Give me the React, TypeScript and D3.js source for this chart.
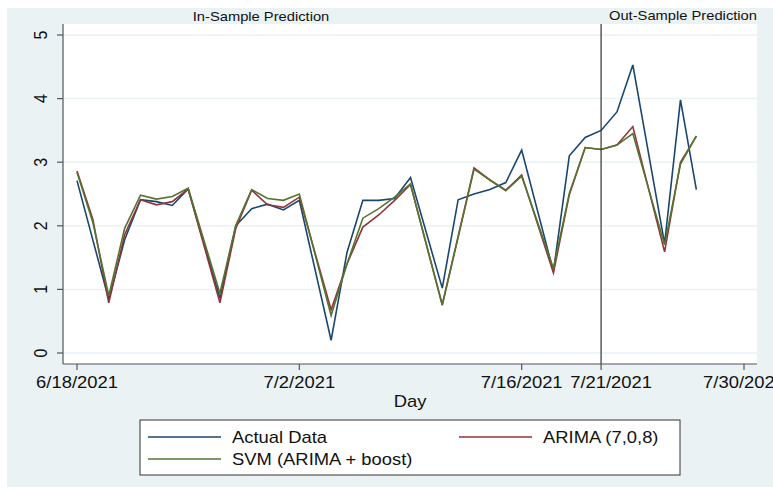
import * as d3 from 'd3';

const parseDate = d3.timeParse('%m/%d/%Y');

// Daily values (days that sit on a straight segment are left out)
const actualDates = [
  '6/18/2021', '6/20/2021', '6/21/2021', '6/22/2021', '6/23/2021', '6/24/2021', '6/25/2021',
  '6/27/2021', '6/28/2021', '6/29/2021', '6/30/2021', '7/1/2021', '7/2/2021',
  '7/4/2021', '7/5/2021', '7/6/2021', '7/7/2021', '7/8/2021', '7/9/2021',
  '7/11/2021', '7/12/2021', '7/13/2021', '7/14/2021', '7/15/2021', '7/16/2021',
  '7/18/2021', '7/19/2021', '7/20/2021', '7/21/2021', '7/22/2021', '7/23/2021',
  '7/25/2021', '7/26/2021', '7/27/2021',
];
const actualValues = [
  2.71, 0.84, 1.78, 2.41, 2.38, 2.32, 2.58,
  0.86, 2.0, 2.27, 2.34, 2.25, 2.4,
  0.2, 1.58, 2.4, 2.4, 2.43, 2.76,
  1.02, 2.41, 2.5, 2.57, 2.68, 3.19,
  1.28, 3.1, 3.39, 3.5, 3.79, 4.53,
  1.72, 3.98, 2.57,
];

const modelDates = [
  '6/18/2021', '6/19/2021', '6/20/2021', '6/21/2021', '6/22/2021', '6/23/2021', '6/24/2021', '6/25/2021',
  '6/27/2021', '6/28/2021', '6/29/2021', '6/30/2021', '7/1/2021', '7/2/2021',
  '7/4/2021', '7/5/2021', '7/6/2021', '7/7/2021', '7/8/2021', '7/9/2021',
  '7/11/2021', '7/13/2021', '7/14/2021', '7/15/2021', '7/16/2021',
  '7/18/2021', '7/19/2021', '7/20/2021', '7/21/2021', '7/22/2021', '7/23/2021',
  '7/25/2021', '7/26/2021', '7/27/2021',
];
const arimaValues = [
  2.86, 2.1, 0.79, 1.86, 2.41, 2.33, 2.38, 2.58,
  0.79, 1.96, 2.56, 2.33, 2.29, 2.45,
  0.68, 1.4, 1.98, 2.17, 2.4, 2.65,
  0.76, 2.91, 2.72, 2.56, 2.8,
  1.26, 2.49, 3.23, 3.2, 3.27, 3.56,
  1.59, 3.0, 3.41,
];
const svmValues = [
  2.84, 2.05, 0.9, 1.96, 2.48, 2.42, 2.46, 2.59,
  0.94, 2.01, 2.57, 2.43, 2.4, 2.5,
  0.59, 1.4, 2.12, 2.27, 2.45, 2.66,
  0.75, 2.89, 2.72, 2.55, 2.78,
  1.33, 2.51, 3.23, 3.2, 3.27, 3.45,
  1.7, 2.97, 3.41,
];

const xTickLabels = ['6/18/2021', '7/2/2021', '7/16/2021', '7/21/2021', '7/30/2021'];
const yTicks = [0, 1, 2, 3, 4, 5];
const splitDate = '7/21/2021';

const W = 773;
const H = 491;
const plot = { left: 63, right: 757, top: 24, bottom: 364 };
const SX = 1.15; // horizontal stretch of the original text

const NAVY = '#1a476f';
const MAROON = '#90353b';
const GREEN = '#55752f';
const BG = '#eaf2f3';
const AXIS = '#555';

export default function App() {
  const x = d3
    .scaleTime()
    .domain([parseDate('6/18/2021')!, parseDate('7/30/2021')!])
    .range([77, 744]);
  const y = d3.scaleLinear().domain([0, 5]).range([353, 35]);

  const line = d3
    .line<[Date, number]>()
    .x((d) => x(d[0]))
    .y((d) => y(d[1]));

  const zip = (dates: string[], vals: number[]) =>
    dates.map((d, i) => [parseDate(d)!, vals[i]] as [Date, number]);

  const series = [
    { name: 'Actual Data', color: NAVY, data: zip(actualDates, actualValues) },
    { name: 'ARIMA (7,0,8)', color: MAROON, data: zip(modelDates, arimaValues) },
    { name: 'SVM (ARIMA + boost)', color: GREEN, data: zip(modelDates, svmValues) },
  ];

  const font = "'Liberation Sans', Arial, Helvetica, sans-serif";
  const splitX = x(parseDate(splitDate)!);

  const txt = (
    tx: number,
    ty: number,
    s: string,
    size: number,
    anchor: string = 'start',
    rot = 0
  ) => (
    <text
      key={s + tx + ty}
      transform={`translate(${tx},${ty}) scale(${SX},1)${rot ? ` rotate(${rot})` : ''}`}
      textAnchor={anchor}
      fontSize={size}
      dy={rot ? '0.35em' : 0}
      fill="#111"
      fontFamily={font}
    >
      {s}
    </text>
  );

  return (
    <svg
      width={W}
      height={H}
      style={{ position: 'absolute', left: 0, top: 0, background: '#fff' }}
    >
      <rect x={7} y={8} width={W - 7} height={479} fill={BG} />
      <rect
        x={plot.left}
        y={plot.top}
        width={plot.right - plot.left}
        height={plot.bottom - plot.top}
        fill="#fff"
      />

      {/* grid */}
      {yTicks.map((t) => (
        <line
          key={'g' + t}
          x1={plot.left}
          x2={plot.right}
          y1={y(t)}
          y2={y(t)}
          stroke={BG}
          strokeWidth={1.5}
        />
      ))}

      {/* series */}
      {series.map((s) => (
        <path
          key={s.name}
          d={line(s.data) || ''}
          fill="none"
          stroke={s.color}
          strokeWidth={1.6}
          strokeLinejoin="miter"
        />
      ))}

      {/* split line */}
      <line x1={splitX} x2={splitX} y1={plot.top} y2={plot.bottom} stroke="#333" strokeWidth={1.2} />

      {/* axes */}
      <line x1={plot.left} x2={plot.left} y1={plot.top} y2={plot.bottom} stroke={AXIS} strokeWidth={1.2} />
      <line x1={plot.left} x2={plot.right} y1={plot.bottom} y2={plot.bottom} stroke={AXIS} strokeWidth={1.2} />

      {yTicks.map((t) => (
        <g key={'yt' + t}>
          <line x1={plot.left - 6} x2={plot.left} y1={y(t)} y2={y(t)} stroke={AXIS} strokeWidth={1.2} />
          {txt(41, y(t), String(t), 16, 'middle', -90)}
        </g>
      ))}

      {xTickLabels.map((l) => {
        const tx = x(parseDate(l)!);
        // the split-date label sits a little to the right of its tick in the original
        const lx = l === splitDate ? tx + 10 : tx;
        return (
          <g key={'xt' + l}>
            <line x1={tx} x2={tx} y1={plot.bottom} y2={plot.bottom + 6} stroke={AXIS} strokeWidth={1.2} />
            {txt(lx, 388, l, 16, 'middle')}
          </g>
        );
      })}

      {txt(410, 407, 'Day', 16, 'middle')}

      {/* titles */}
      {txt(261, 20.5, 'In-Sample Prediction', 12.8, 'middle')}
      {txt(609, 20, 'Out-Sample Prediction', 12.8, 'start')}

      {/* legend */}
      <rect x={140} y={420} width={540} height={55} fill="#fff" stroke="#333" strokeWidth={1} />
      <line x1={148} x2={221} y1={437} y2={437} stroke={NAVY} strokeWidth={1.6} />
      {txt(232, 443, 'Actual Data', 16)}
      <line x1={459} x2={532} y1={437} y2={437} stroke={MAROON} strokeWidth={1.6} />
      {txt(543, 443, 'ARIMA (7,0,8)', 16)}
      <line x1={148} x2={221} y1={459} y2={459} stroke={GREEN} strokeWidth={1.6} />
      {txt(232, 465, 'SVM (ARIMA + boost)', 16)}
    </svg>
  );
}
